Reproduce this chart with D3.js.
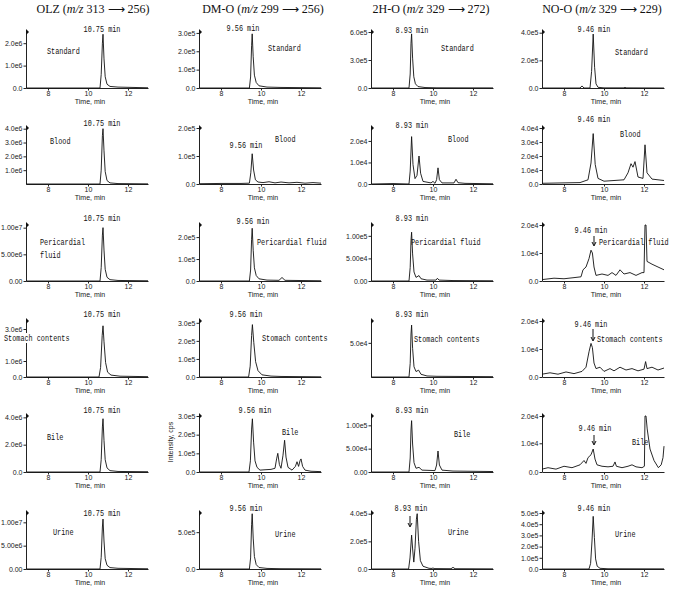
<!DOCTYPE html>
<html>
<head>
<meta charset="utf-8">
<title>LC-MS/MS chromatograms</title>
<style>
body { margin: 0; background: #fff; }
.trace { fill: none; stroke: #111; stroke-width: 0.9px; stroke-linejoin: round; }
.tick text { font-family: "Liberation Sans", Arial, sans-serif; font-size: 7px; fill: #222; }
.tick line, .domain { stroke: #222; stroke-width: 1px; }
.mono { font-family: "Liberation Mono", "DejaVu Sans Mono", monospace; font-size: 8.5px; fill: #111; }
.title { font-family: "Liberation Serif", "Times New Roman", serif; font-size: 12px; fill: #111; }
.xlabel { font-family: "Liberation Sans", Arial, sans-serif; font-size: 7px; fill: #222; }
</style>
</head>
<body>
<svg width="676" height="591"></svg>
<script src="https://d3js.org/d3.v7.min.js"></script>
<script>
// ---- data ----
var compounds = ["OLZ", "DM-O", "2H-O", "NO-O"];
var precursors = ["313", "299", "329", "329"];
var products = ["256", "256", "272", "229"];
var samples = ["Standard", "Blood", "Pericardial fluid", "Stomach contents", "Bile", "Urine"];
var retention = ["10.75 min", "9.56 min", "8.93 min", "9.46 min"];
var timeDomain = [6.9, 13.0];
var timeTicks = [8, 10, 12];

// value at the top of each y axis [row][col]
var yTop = [
  [2.5e6, 3.05e5, 6.0e5, 4.05e5],
  [4.05e6, 2.0e5, 2.6e4, 4.0e4],
  [1.05e7, 2.55e5, 1.24e5, 2.0e4],
  [3.5e6, 3.1e5, 8.2e4, 2.0e4],
  [4.1e6, 3.0e5, 1.2e5, 1.95e4],
  [1.2e7, 7.6e5, 4.05e5, 5.0e5]
];
var yTicks = [
  [[0, 1e6, 2e6], [0, 1e5, 2e5, 3e5], [0, 3e5, 6e5], [0, 2e5, 4e5]],
  [[1e6, 2e6, 3e6, 4e6], [0, 1e5, 2e5], [0, 1e4, 2e4], [0, 1e4, 2e4, 3e4, 4e4]],
  [[0, 5e6, 1e7], [0, 1e5, 2e5], [0, 5e4, 1e5], [0, 1e4, 2e4]],
  [[0, 1e6, 3e6], [0, 1e5, 2e5, 3e5], [5e4], [0, 1e4, 2e4]],
  [[0, 2e6, 4e6], [0, 1e5, 2e5, 3e5], [0, 5e4, 1e5], [0, 1e4, 2e4]],
  [[0, 5e6, 1e7], [0, 5e5], [0, 2e5, 4e5], [0, 1e5, 2e5, 3e5, 4e5, 5e5]]
];
var yDigits = [
  [1, 1, 1, 1],
  [1, 1, 1, 1],
  [2, 1, 2, 1],
  [1, 1, 1, 1],
  [1, 1, 2, 1],
  [2, 1, 1, 1]
];

// traces: [time (min), intensity (cps)]
var olzStandard = [[6.9,0],[10.6,0],[10.66,0.6e6],[10.72,2.0e6],[10.75,2.4e6],[10.8,1.3e6],[10.86,0.5e6],[10.95,0.17e6],[11.1,0.07e6],[11.5,0.04e6],[12.5,0.02e6],[13,0.01e6]];
var olzBlood = [[6.9,0],[10.6,0],[10.66,1.0e6],[10.72,3.5e6],[10.75,4.0e6],[10.8,2.4e6],[10.86,0.9e6],[10.95,0.25e6],[11.1,0.08e6],[11.5,0.03e6],[13,0.01e6]];
var olzPericardial = [[6.9,0],[10.6,0],[10.66,0.25e7],[10.72,0.86e7],[10.75,1.0e7],[10.8,0.58e7],[10.86,0.22e7],[10.95,0.07e7],[11.1,0.025e7],[11.5,0.01e7],[13,0.004e7]];
var olzStomach = [[6.9,0],[10.55,0],[10.63,0.6e6],[10.71,2.6e6],[10.75,3.2e6],[10.8,2.2e6],[10.88,0.9e6],[10.98,0.3e6],[11.15,0.12e6],[11.6,0.05e6],[13,0.02e6]];
var olzBile = [[6.9,0],[10.6,0],[10.66,0.9e6],[10.72,3.3e6],[10.75,3.9e6],[10.8,2.3e6],[10.86,0.9e6],[10.95,0.3e6],[11.1,0.1e6],[11.5,0.04e6],[13,0.02e6]];
var olzUrine = [[6.9,0],[10.6,0],[10.66,0.25e7],[10.72,0.9e7],[10.75,1.07e7],[10.8,0.6e7],[10.86,0.22e7],[10.95,0.08e7],[11.1,0.03e7],[11.5,0.015e7],[13,0.005e7]];

var dmoStandard = [[6.9,0],[9.42,0],[9.48,0.6e5],[9.53,2.3e5],[9.56,2.95e5],[9.61,1.7e5],[9.67,0.7e5],[9.76,0.3e5],[9.9,0.12e5],[10.3,0.05e5],[11,0.03e5],[13,0.01e5]];
var dmoBlood = [[6.9,0.01e5],[8,0.02e5],[9.0,0.02e5],[9.42,0.03e5],[9.49,0.4e5],[9.56,1.08e5],[9.63,0.5e5],[9.72,0.15e5],[9.85,0.07e5],[10.1,0.05e5],[10.4,0.08e5],[10.7,0.04e5],[11.0,0.07e5],[11.4,0.04e5],[11.8,0.06e5],[12.2,0.03e5],[12.6,0.05e5],[13,0.03e5]];
var dmoPericardial = [[6.9,0],[9.42,0],[9.48,0.5e5],[9.53,1.9e5],[9.56,2.4e5],[9.61,1.4e5],[9.67,0.6e5],[9.76,0.25e5],[9.9,0.1e5],[10.3,0.04e5],[10.9,0.03e5],[11.05,0.16e5],[11.2,0.03e5],[13,0.01e5]];
var dmoStomach = [[6.9,0],[9.38,0],[9.46,0.6e5],[9.53,2.3e5],[9.57,2.9e5],[9.64,1.9e5],[9.73,0.85e5],[9.85,0.35e5],[10.05,0.12e5],[10.5,0.05e5],[11,0.03e5],[13,0.01e5]];
var dmoBile = [[6.9,0],[9.4,0],[9.47,0.6e5],[9.53,2.3e5],[9.57,2.85e5],[9.63,1.6e5],[9.7,0.6e5],[9.8,0.25e5],[9.95,0.1e5],[10.2,0.12e5],[10.5,0.14e5],[10.7,0.2e5],[10.78,0.7e5],[10.84,1.0e5],[10.92,0.4e5],[11.0,0.2e5],[11.1,0.9e5],[11.18,1.7e5],[11.25,0.8e5],[11.35,0.25e5],[11.55,0.1e5],[11.72,0.3e5],[11.8,0.55e5],[11.88,0.3e5],[11.95,0.6e5],[12.0,0.7e5],[12.08,0.3e5],[12.2,0.1e5],[12.5,0.04e5],[13,0.02e5]];
var dmoUrine = [[6.9,0],[9.42,0],[9.48,1.5e5],[9.53,6.0e5],[9.56,7.5e5],[9.61,4.2e5],[9.67,1.7e5],[9.76,0.6e5],[9.9,0.2e5],[10.3,0.08e5],[11,0.04e5],[13,0.02e5]];

var hoStandard = [[6.9,0],[8.8,0],[8.86,1.5e5],[8.9,4.8e5],[8.93,5.8e5],[8.98,3.2e5],[9.04,1.2e5],[9.12,0.45e5],[9.25,0.15e5],[9.6,0.05e5],[10.2,0.02e5],[13,0.01e5]];
var hoBlood = [[6.9,0],[8.0,0.02e4],[8.8,0],[8.86,0.6e4],[8.93,2.2e4],[9.0,0.9e4],[9.1,0.25e4],[9.2,0.4e4],[9.3,1.3e4],[9.38,0.5e4],[9.5,0.12e4],[9.9,0.05e4],[10.0,0.12e4],[10.1,0.03e4],[10.18,0.2e4],[10.25,0.75e4],[10.32,0.2e4],[10.45,0.05e4],[11.05,0.05e4],[11.15,0.22e4],[11.25,0.06e4],[11.6,0.03e4],[13,0.01e4]];
var hoPericardial = [[6.9,0],[8.8,0],[8.86,0.3e5],[8.9,0.9e5],[8.93,1.08e5],[8.98,0.6e5],[9.05,0.2e5],[9.15,0.08e5],[9.3,0.12e5],[9.4,0.05e5],[9.7,0.02e5],[10.15,0.02e5],[10.22,0.06e5],[10.3,0.02e5],[11,0.01e5],[13,0.005e5]];
var hoStomach = [[6.9,0],[8.8,0],[8.86,2.0e4],[8.9,6.3e4],[8.93,7.6e4],[8.98,4.2e4],[9.05,1.5e4],[9.15,0.8e4],[9.28,1.0e4],[9.4,0.4e4],[9.7,0.15e4],[10.2,0.1e4],[13,0.05e4]];
var hoBile = [[6.9,0],[8.8,0],[8.86,0.3e5],[8.9,0.9e5],[8.93,1.1e5],[8.98,0.6e5],[9.05,0.2e5],[9.15,0.08e5],[9.3,0.1e5],[9.45,0.04e5],[10.1,0.03e5],[10.18,0.15e5],[10.25,0.45e5],[10.32,0.15e5],[10.45,0.04e5],[11,0.02e5],[13,0.01e5]];
var hoUrine = [[6.9,0],[8.78,0],[8.85,0.8e5],[8.93,2.45e5],[8.99,1.3e5],[9.04,0.5e5],[9.1,1.5e5],[9.17,3.6e5],[9.21,4.0e5],[9.28,2.0e5],[9.37,0.6e5],[9.5,0.2e5],[9.8,0.05e5],[9.95,0.04e5],[10.0,0.08e5],[10.05,0.03e5],[10.9,0.02e5],[11.0,0.12e5],[11.1,0.02e5],[13,0.01e5]];

var nooStandard = [[6.9,0],[8.8,0],[8.9,0.15e5],[9.0,0],[9.3,0],[9.38,1.2e5],[9.46,3.9e5],[9.53,1.5e5],[9.6,0.3e5],[9.7,0.05e5],[10,0.01e5],[11,0.01e5],[11.05,0.05e5],[11.1,0.01e5],[13,0]];
var nooBlood = [[6.9,0.05e4],[8,0.08e4],[8.8,0.1e4],[9.2,0.3e4],[9.35,1.5e4],[9.46,3.6e4],[9.56,1.4e4],[9.7,0.4e4],[10,0.2e4],[10.5,0.25e4],[11.0,0.3e4],[11.2,0.8e4],[11.35,1.45e4],[11.45,1.2e4],[11.55,1.6e4],[11.7,0.5e4],[11.95,0.4e4],[12.05,2.8e4],[12.15,0.8e4],[12.4,0.35e4],[13,0.25e4]];
var nooPericardial = [[6.9,0.05e4],[7.5,0.1e4],[8.0,0.08e4],[8.5,0.12e4],[8.85,0.15e4],[8.95,0.4e4],[9.1,0.5e4],[9.25,0.8e4],[9.35,1.1e4],[9.42,1.0e4],[9.5,0.5e4],[9.6,0.2e4],[9.9,0.25e4],[10.2,0.2e4],[10.4,0.3e4],[10.6,0.2e4],[10.8,0.4e4],[11.0,0.25e4],[11.3,0.3e4],[11.6,0.2e4],[11.9,0.3e4],[12.0,0.3e4],[12.05,3e4],[12.1,3e4],[12.15,0.7e4],[12.4,0.6e4],[12.7,0.5e4],[13,0.4e4]];
var nooStomach = [[6.9,0.1e4],[7.3,0.15e4],[7.7,0.1e4],[8.1,0.18e4],[8.5,0.12e4],[8.9,0.2e4],[9.1,0.35e4],[9.25,0.9e4],[9.35,1.2e4],[9.42,1.05e4],[9.5,0.5e4],[9.6,0.3e4],[9.8,0.35e4],[10.0,0.2e4],[10.3,0.3e4],[10.5,0.22e4],[10.8,0.35e4],[11.1,0.25e4],[11.4,0.3e4],[11.7,0.22e4],[12.0,0.28e4],[12.08,0.55e4],[12.15,0.3e4],[12.4,0.35e4],[12.7,0.25e4],[13,0.32e4]];
var nooBile = [[6.9,0.1e4],[7.2,0.15e4],[7.6,0.1e4],[8.0,0.2e4],[8.4,0.15e4],[8.8,0.25e4],[9.0,0.4e4],[9.1,0.3e4],[9.2,0.5e4],[9.35,0.6e4],[9.46,0.8e4],[9.55,0.45e4],[9.65,0.25e4],[9.9,0.2e4],[10.2,0.18e4],[10.45,0.2e4],[10.55,0.35e4],[10.62,0.2e4],[10.9,0.15e4],[11.2,0.2e4],[11.4,0.25e4],[11.6,0.18e4],[11.9,0.15e4],[12.02,0.2e4],[12.05,3e4],[12.1,3e4],[12.16,1.5e4],[12.3,0.8e4],[12.5,0.4e4],[12.72,0.15e4],[12.86,0.25e4],[12.95,0.5e4],[13.0,0.9e4]];
var nooUrine = [[6.9,0],[9.25,0],[9.33,0.5e5],[9.4,2.5e5],[9.46,4.7e5],[9.52,2.8e5],[9.58,0.9e5],[9.66,0.25e5],[9.8,0.06e5],[10.2,0.02e5],[13,0.01e5]];

var traces = [
  [olzStandard, dmoStandard, hoStandard, nooStandard],
  [olzBlood, dmoBlood, hoBlood, nooBlood],
  [olzPericardial, dmoPericardial, hoPericardial, nooPericardial],
  [olzStomach, dmoStomach, hoStomach, nooStomach],
  [olzBile, dmoBile, hoBile, nooBile],
  [olzUrine, dmoUrine, hoUrine, nooUrine]
];

// ---- layout ----
var svg = d3.select("svg");
var axisX = [26, 199, 371, 542];
var baseY = [88, 184, 281, 377, 472, 569];
var plotW = 122, plotH = 56;
var titleX = [93, 263, 431, 602];
var charW = 4.1; // width of one monospace cell in the labels

// peak label centre, offsets from (axis x, baseline)
var peakPos = [
  [[76,-59],[44,-60],[41,-58],[52,-59]],
  [[76,-61],[47,-39],[41,-59],[52,-65]],
  [[76,-63],[54,-60],[41,-63],[49,-51]],
  [[76,-63],[47,-63],[41,-63],[49,-53]],
  [[76,-62],[56,-62],[41,-62],[53,-44]],
  [[76,-56],[47,-61],[40,-61],[52,-61]]
];
// sample label start, offsets
var samplePos = [
  [[21,-37],[69,-40],[70,-40],[73,-36]],
  [[24,-43],[76,-45],[77,-45],[78,-50]],
  [[14,-39],[58,-39],[40,-39],[57,-39]],
  [[-22,-39],[63,-39],[43,-38],[55,-38]],
  [[21,-35],[83,-40],[83,-38],[90,-30]],
  [[27,-37],[76,-35],[77,-37],[73,-35]]
];
// down arrows [row, col, dx, y1, y2]
var arrows = [[2,3,52,-45,-35],[3,3,51,-48,-36],[4,3,52,-37,-27],[5,2,39,-53,-42]];

function monoText(g, x, y, str, anchor, bg) {
  var w = str.length * charW;
  var left = anchor === "middle" ? x - w / 2 : x;
  if (bg) {
    g.append("rect").attr("x", left - 1).attr("y", y - 5).attr("width", w + 2).attr("height", 10).attr("fill", "#fff");
  }
  // squeeze the monospace glyphs into narrow cells
  var sx = charW / (8.5 * 0.6);
  return g.append("text").attr("class", "mono")
    .attr("transform", "translate(" + left + "," + y + ") scale(" + sx + ",1)")
    .attr("dy", "0.35em")
    .text(str);
}

function fmt(d, digits) {
  if (d === 0) return digits === 2 ? "0.00" : "0.0";
  return d.toExponential(digits).replace("e+", "e");
}

// titles
compounds.forEach(function(name, c) {
  var t = svg.append("text").attr("class", "title")
    .attr("x", titleX[c]).attr("y", 13).attr("text-anchor", "middle");
  t.append("tspan").text(name + " (");
  t.append("tspan").attr("font-style", "italic").text("m/z");
  t.append("tspan").text(" " + precursors[c] + " \u27F6 " + products[c] + ")");
});

samples.forEach(function(sample, r) {
  compounds.forEach(function(name, c) {
    var x0 = axisX[c], y0 = baseY[r];
    var x = d3.scaleLinear().domain(timeDomain).range([x0, x0 + plotW]);
    var y = d3.scaleLinear().domain([0, yTop[r][c]]).range([y0, y0 - plotH]).clamp(true);
    var g = svg.append("g");

    g.append("g")
      .attr("transform", "translate(0," + y0 + ")")
      .call(d3.axisBottom(x).tickValues(timeTicks).tickSize(2.5).tickSizeOuter(0).tickPadding(1).tickFormat(d3.format("d")))
      .call(function(a) { a.attr("font-size", null).attr("font-family", null); });

    g.append("g")
      .attr("transform", "translate(" + x0 + ",0)")
      .call(d3.axisLeft(y).tickValues(yTicks[r][c]).tickSize(2.5).tickSizeOuter(0).tickPadding(1)
        .tickFormat(function(d) { return fmt(d, yDigits[r][c]); }))
      .call(function(a) { a.attr("font-size", null).attr("font-family", null); });

    // arrow head at top of y axis
    g.append("path")
      .attr("d", "M" + x0 + "," + (y0 - plotH - 3) + "L" + (x0 + 3) + "," + (y0 - plotH) + "L" + x0 + "," + (y0 - plotH + 3) + "Z")
      .attr("fill", "#111");

    g.append("text").attr("class", "xlabel")
      .attr("x", x0 + plotW / 2 + 3).attr("y", y0 + 16)
      .attr("text-anchor", "middle").text("Time, min");

    g.append("path")
      .datum(traces[r][c])
      .attr("class", "trace")
      .attr("d", d3.line().x(function(d) { return x(d[0]); }).y(function(d) { return y(d[1]); }));

    var pp = peakPos[r][c];
    monoText(g, x0 + pp[0], y0 + pp[1], retention[c], "middle");

    var sp = samplePos[r][c];
    if (r === 2 && c === 0) {
      monoText(g, x0 + sp[0], y0 + sp[1], "Pericardial");
      monoText(g, x0 + sp[0], y0 + sp[1] + 13, "fluid");
    } else {
      monoText(g, x0 + sp[0], y0 + sp[1], sample, "start", r === 3 && c === 0);
    }
  });
});

// downward arrows
arrows.forEach(function(a) {
  var ax = axisX[a[1]] + a[2], ya = baseY[a[0]] + a[3], yb = baseY[a[0]] + a[4];
  svg.append("line").attr("x1", ax).attr("x2", ax).attr("y1", ya).attr("y2", yb - 1)
    .attr("stroke", "#111").attr("stroke-width", 1);
  svg.append("path").attr("d", "M" + (ax - 2) + "," + (yb - 4) + "L" + ax + "," + yb + "L" + (ax + 2) + "," + (yb - 4))
    .attr("fill", "none").attr("stroke", "#111").attr("stroke-width", 1);
});

// y axis title (bile DM-O panel)
svg.append("text").attr("class", "xlabel")
  .attr("transform", "translate(173," + (baseY[4] - 30) + ") rotate(-90)")
  .attr("text-anchor", "middle").attr("font-size", "6px").text("Intensity, cps");
</script>
</body>
</html>
